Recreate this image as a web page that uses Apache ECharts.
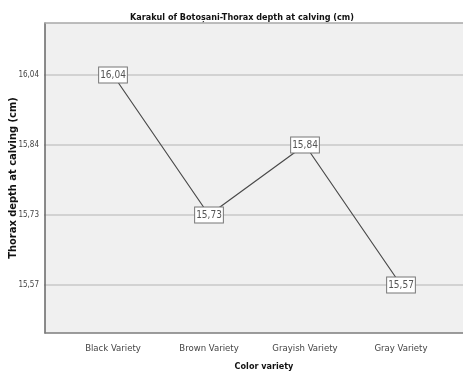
<!DOCTYPE html>
<html>
<head>
<meta charset="utf-8">
<script src="https://cdn.jsdelivr.net/npm/echarts@6/dist/echarts.min.js"></script>
<style>
  html, body { margin: 0; padding: 0; background: #fff; }
  #chart { width: 463px; height: 376px; }
</style>
</head>
<body>
<div id="chart"></div>
<script>
// data
const categories = ['Black Variety', 'Brown Variety', 'Grayish Variety', 'Gray Variety']
const yTicks = ['15,57', '15,73', '15,84', '16,04']
const meanValues = ['16,04', '15,73', '15,84', '15,57']

const narrow = '"Liberation Sans Narrow", "DejaVu Sans Condensed", "Liberation Sans", sans-serif'

const chart = echarts.init(document.getElementById('chart'))

const option = {
  backgroundColor: '#fff',
  animation: false,
  title: {
    text: 'Karakul of Botoșani-Thorax depth at calving (cm)',
    left: 237,
    textAlign: 'center',
    top: 8,
    textStyle: { fontFamily: narrow, fontSize: 9, fontWeight: 'bold', color: '#111' }
  },
  grid: [
    // 0: grey plot frame
    { left: 44, right: 0, top: 23, bottom: 42, show: true, backgroundColor: '#f0f0f0', borderWidth: 0 },
    // 1: full-width horizontal grid lines + y labels
    { left: 44, right: 0, top: 75, bottom: 91 },
    // 2: the line itself
    { left: 65, right: 14, top: 75, bottom: 91 }
  ],
  xAxis: [
    {
      gridIndex: 0, type: 'category', data: categories, position: 'bottom',
      axisLine: { lineStyle: { color: '#7c7c7c', width: 1.5 } },
      axisTick: { show: false }, axisLabel: { show: false },
      name: 'Color variety', nameLocation: 'middle', nameGap: 29,
      nameTextStyle: { fontFamily: narrow, fontSize: 9, fontWeight: 'bold', color: '#111', padding: [0, 0, 0, 20] }
    },
    {
      gridIndex: 0, type: 'category', data: categories, position: 'top',
      axisLine: { lineStyle: { color: '#a8a8a8', width: 1.5 } },
      axisTick: { show: false }, axisLabel: { show: false }
    },
    {
      gridIndex: 1, type: 'category', data: categories, show: false
    },
    {
      gridIndex: 2, type: 'category', data: categories, boundaryGap: true,
      offset: 49,
      axisLine: { show: false }, axisTick: { show: false },
      axisLabel: { fontFamily: narrow, fontSize: 9.5, color: '#444', margin: 10 }
    }
  ],
  yAxis: [
    {
      gridIndex: 0, type: 'value', min: 0, max: 1,
      axisLine: { show: true, lineStyle: { color: '#666', width: 1.5 } },
      axisTick: { show: false }, axisLabel: { show: false }, splitLine: { show: false },
      name: 'Thorax depth at calving (cm)', nameLocation: 'middle', nameGap: 26,
      nameTextStyle: { fontFamily: narrow, fontSize: 11, fontWeight: 'bold', color: '#111' }
    },
    {
      gridIndex: 1, type: 'category', data: yTicks, boundaryGap: false,
      axisLine: { show: false }, axisTick: { show: false },
      axisLabel: { fontFamily: narrow, fontSize: 8, color: '#444', margin: 5 },
      splitLine: { show: true, lineStyle: { color: '#c8c8c8', width: 1.5 } }
    },
    {
      gridIndex: 2, type: 'category', data: yTicks, boundaryGap: false, show: false
    }
  ],
  series: [
    {
      type: 'line',
      xAxisIndex: 3,
      yAxisIndex: 2,
      data: categories.map((c, i) => [c, meanValues[i]]),
      symbol: 'circle',
      symbolSize: 1,
      itemStyle: { color: 'rgba(0,0,0,0)' },
      lineStyle: { color: '#4a4a4a', width: 1.2 },
      label: {
        show: true,
        position: 'inside',
        formatter: (p) => p.value[1],
        fontFamily: narrow,
        fontSize: 10,
        color: '#555',
        backgroundColor: '#fff',
        borderColor: '#777',
        borderWidth: 1,
        padding: [3, 1, 2, 1]
      }
    }
  ]
}

chart.setOption(option)
</script>
</body>
</html>
